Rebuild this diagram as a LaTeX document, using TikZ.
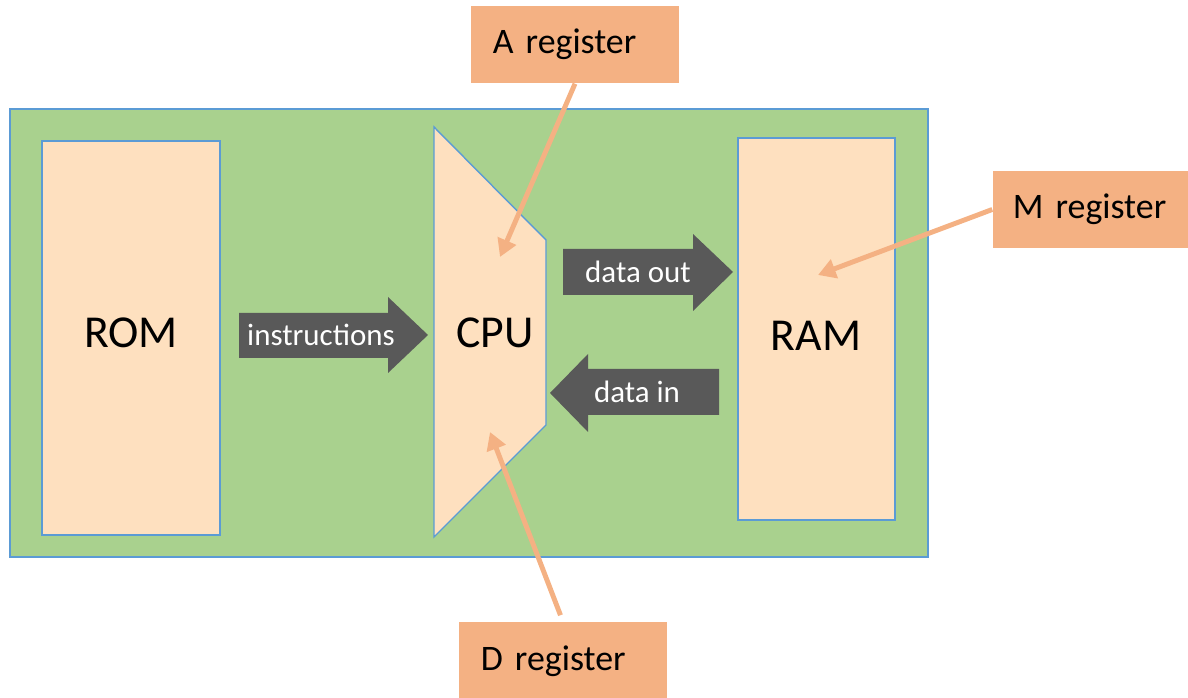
\documentclass[tikz,border=0pt]{standalone}
\usepackage{fontspec}
\setmainfont{Carlito}
\usetikzlibrary{arrows.meta}
\definecolor{board}{HTML}{A9D18E}
\definecolor{peach}{HTML}{FEE0BF}
\definecolor{edge}{HTML}{5B9BD5}
\definecolor{regfill}{HTML}{F4B183}
\definecolor{busgray}{HTML}{595959}
\tikzset{
  >={Triangle[length=5pt,width=5.5pt]},
  unit/.style={draw=edge,fill=peach,line width=.4pt,inner sep=0pt},
  reg/.style={fill=regfill,minimum height=.77cm,inner xsep=.22cm,align=left,
    font=\fontsize{10.2}{12}\selectfont},
  buslabel/.style={text=white,font=\fontsize{8.8}{10}\selectfont},
}
\tikzstyle{pointer}=[draw=regfill,line width=1.4pt,->]
\tikzstyle{bigname}=[font=\fontsize{13}{15}\selectfont]

\begin{document}
\begin{tikzpicture}[x=0.01cm,y=-0.01cm]
    \useasboundingbox (0,0) rectangle (1188,698);
    % board
    \fill[board,draw=edge,line width=.4pt] (10,109) rectangle (928,557);
    % memories and cpu
    \node[unit,minimum width=1.78cm,minimum height=3.94cm] (rom) at (131,338) {};
    \node[bigname] (romlabel) at (131,333) {ROM};
    \node[unit,minimum width=1.57cm,minimum height=3.82cm] (ram) at (816.5,329) {};
    \node[bigname] (ramlabel) at (816,336) {RAM};
    \draw[unit] (434,127) -- (546,240) -- (546,425) -- (434,537) -- cycle;
    \node[bigname] (cpulabel) at (495,333) {CPU};
    % buses
    \fill[busgray] (239,313) -- (388,313) -- (388,297) -- (428,335)
      -- (388,373) -- (388,358) -- (239,358) -- cycle;
    \node[buslabel] (instr) at (321,335) {instructions};
    \fill[busgray] (563,249) -- (693,249) -- (693,234) -- (733,272)
      -- (693,311) -- (693,295) -- (563,295) -- cycle;
    \node[buslabel] (dout) at (638,272) {data out};
    \fill[busgray] (550,393) -- (588,354) -- (588,369) -- (719,369)
      -- (719,415) -- (588,415) -- (588,432) -- cycle;
    \node[buslabel] (din) at (637,392) {data in};
    % registers
    \node[reg,text width=1.64cm] (areg) at (575,44.5) {\mbox{A register}};
    \node[reg,text width=1.55cm,inner xsep=.2cm] (mreg) at (1090.5,209.5) {\mbox{M register}};
    \node[reg,text width=1.64cm] (dreg) at (563,661) {\mbox{D register}};
    \coordinate (atip) at (500,257);
    \coordinate (mtip) at (818,275);
    \coordinate (dtip) at (490,432);
    \draw[pointer] (areg.south) -- (atip);
    \draw[pointer] (mreg.west) -- (mtip);
    \draw[pointer,shorten <=2pt] (dreg.north) -- (dtip);
  \end{tikzpicture}
\end{document}
